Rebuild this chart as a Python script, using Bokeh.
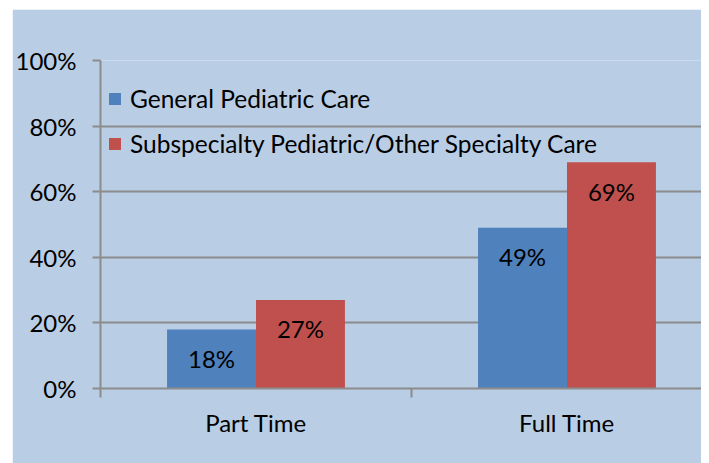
from bokeh.plotting import figure
from bokeh.models import (ColumnDataSource, Range1d, FixedTicker, NumeralTickFormatter,
                          LinearAxis, Grid)
from bokeh.transform import dodge
from bokeh.core.properties import value
from bokeh.embed import file_html
from bokeh.resources import INLINE

# ---- data ----
categories = ["Part Time", "Full Time"]
series_names = ["General Pediatric Care", "Subspecialty Pediatric/Other Specialty Care"]
general_pct = [0.18, 0.49]
subspecialty_pct = [0.27, 0.69]
y_ticks = [0.0, 0.2, 0.4, 0.6, 0.8, 1.0]

BLUE = "#4F81BD"
RED = "#C0504D"
BG = "#B9CDE5"
GRID = "#8C8C8C"
FONT = "Lato"
FS = "24px"

xpos = [i + 0.5 for i in range(len(categories))]
src = ColumnDataSource(dict(
    x=xpos,
    general=general_pct,
    sub=subspecialty_pct,
    general_lbl=[f"{round(v * 100)}%" for v in general_pct],
    sub_lbl=[f"{round(v * 100)}%" for v in subspecialty_pct],
))

p = figure(width=689, height=454, output_backend="svg", toolbar_location=None,
           x_range=Range1d(0, 601 / 311), y_range=Range1d(0, 1),
           x_axis_type=None, y_axis_type=None,
           min_border_left=88, min_border_right=0, min_border_top=51, min_border_bottom=75,
           background_fill_color=BG, border_fill_color=BG, outline_line_color=None)
p.margin = (9, 0, 0, 12)

bw = 0.286
r1 = p.vbar(x=dodge("x", -bw / 2, range=p.x_range), top="general", width=bw, source=src,
            fill_color=BLUE, line_color=None, legend_label=series_names[0])
r2 = p.vbar(x=dodge("x", bw / 2, range=p.x_range), top="sub", width=bw, source=src,
            fill_color=RED, line_color=None, legend_label=series_names[1])

for col, lbl, off in (("general", "general_lbl", -bw / 2), ("sub", "sub_lbl", bw / 2)):
    p.text(x=dodge("x", off, range=p.x_range), y=col, text=lbl, source=src,
           text_align="center", text_baseline="middle", y_offset=29,
           text_font=value(FONT), text_font_size=FS, text_color="black")

# y axis
yax = LinearAxis(ticker=FixedTicker(ticks=y_ticks),
                 formatter=NumeralTickFormatter(format="0%"))
yax.axis_line_color = GRID
yax.axis_line_width = 2
yax.major_tick_line_color = GRID
yax.major_tick_line_width = 2
yax.major_tick_out = 8
yax.major_tick_in = 0
yax.minor_tick_line_color = None
yax.major_label_text_font = FONT
yax.major_label_text_font_size = FS
yax.major_label_text_color = "black"
yax.major_label_standoff = 16
p.add_layout(yax, "left")

# x axis: labels at category centres, tick marks at category boundaries
xax = LinearAxis(ticker=FixedTicker(ticks=xpos, minor_ticks=[0, 1, 2]))
xax.major_label_overrides = {x: c for x, c in zip(xpos, categories)}
xax.axis_line_color = GRID
xax.axis_line_width = 2
xax.major_tick_line_color = None
xax.major_tick_out = 0
xax.major_tick_in = 0
xax.minor_tick_line_color = GRID
xax.minor_tick_line_width = 2
xax.minor_tick_out = 9
xax.minor_tick_in = 0
xax.major_label_text_font = FONT
xax.major_label_text_font_size = FS
xax.major_label_text_color = "black"
xax.major_label_standoff = 10
p.add_layout(xax, "below")

g = Grid(dimension=1, ticker=yax.ticker, grid_line_color=GRID, grid_line_width=2)
p.add_layout(g)

lg = p.legend[0]
lg.location = (7, 222)
lg.margin = 0
lg.padding = 0
lg.spacing = 0
lg.label_height = 45
lg.glyph_width = 15
lg.glyph_height = 15
lg.label_standoff = 8
lg.background_fill_alpha = 0
lg.border_line_color = None
lg.label_text_font = FONT
lg.label_text_font_size = "24.5px"
lg.label_text_color = "black"

open("out.html", "w").write(file_html(p, INLINE))
